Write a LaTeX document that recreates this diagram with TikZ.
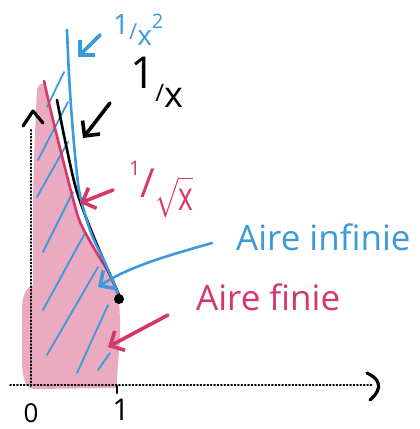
\documentclass[tikz,border=0pt]{standalone}
\usepackage{fontspec}
\setmainfont{Open Sans}
\usetikzlibrary{arrows.meta}
\definecolor{hblue}{RGB}{58,154,218}
\definecolor{hpink}{RGB}{212,56,106}
\definecolor{hfill}{RGB}{234,170,192}
\newcommand{\fsz}[1]{\fontsize{#1}{#1}\selectfont}
\begin{document}
\begin{tikzpicture}[x=1pt,y=-1pt,line cap=round,line join=round,
  curve/.style={line width=2.6pt},
  hatch/.style={hblue,line width=1.8pt},
  handarrow/.style={line width=3.6pt,-{Straight Barb[length=11pt,width=22pt,line width=3.6pt]}},
  axisline/.style={line width=1.4pt,dash pattern=on 1.2pt off 2.2pt},
  chevron/.style={line width=3.2pt},
  lab/.style={inner sep=0pt,anchor=base west}
]
\useasboundingbox (0,0) rectangle (420,429);
% pink area
\fill[hfill] plot[smooth] coordinates {(44,84)(53,120)(63,160)(72,195)(80,222)(95,250)(110,275)(119,297)}
  -- (120,320) .. controls (121,345) and (117,360) .. (117,388)
  -- (35,389) .. controls (26,389) and (22,380) .. (22,360)
  -- (22,310) .. controls (22,295) and (26,288) .. (33,285)
  -- (33,200) .. controls (34,150) and (36,110) .. (37,92)
  .. controls (37,85) and (41,83) .. (44,84) -- cycle;
% hatching
\draw[hatch] (47,107) -- (64,72);
\draw[hatch] (38,160) -- (68,102);
\draw[hatch] (37,197) -- (68,142);
\draw[hatch] (43,252) -- (73,192);
\draw[hatch] (43,310) -- (85,233);
\draw[hatch] (47,355) -- (98,267);
\draw[hatch] (77,373) -- (108,305);
\draw[hatch] (98,370) -- (110,353);
% axes
\coordinate (xs) at (10,385);
\coordinate (xe) at (372,385);
\coordinate (ys) at (31,386);
\coordinate (ye) at (31,128);
\draw[axisline] (xs) -- (xe);
\draw[axisline] (ys) -- (ye);
\draw[chevron] (367,373) .. controls (378,378) and (385,387) .. (370,400);
\draw[chevron] (23,126) -- (33,111) -- (43,123);
\draw[line width=2pt] (117,386) -- (117,393);
% curves
\draw[curve,hpink] plot[smooth] coordinates {(44,81)(53,120)(63,160)(72,195)(80,222)(95,250)(110,275)(119,297)};
\draw[curve,black] plot[smooth] coordinates {(57,100)(66,145)(77,192)(95,240)(120,297)};
\draw[curve,hblue] plot[smooth] coordinates {(67,30)(69,75)(72,120)(76,165)(80,195)(91,233)(106,265)(118,293)};
\node[circle,fill=black,inner sep=0pt,minimum size=10pt] (dot) at (119,299) {};
% tick labels
\node[inner sep=0pt,font=\fsz{26}] (zero) at (31,413) {0};
\node[inner sep=0pt,font=\fsz{30}] (one) at (121,410) {1};
% curve labels
\node[lab,hblue] (lblue) at (113,45)
  {\raisebox{11pt}{\fsz{28}1}\raisebox{6pt}{\fsz{22}/}{\fsz{28}x}\raisebox{17pt}{\fsz{20}2}};
\node[lab,black] (lblack) at (130,107)
  {\raisebox{19pt}{\fsz{44}1}\raisebox{6pt}{\fsz{24}/}{\fsz{36}x}};
\node[lab,hpink] (lpink) at (129,210)
  {\raisebox{35pt}{\fsz{20}1}\raisebox{13pt}{\fsz{40}/}\scalebox{2.8}[4]{$\sqrt{\hbox{x}}$}};
\node[lab,hblue,font=\fsz{35}] (tinf) at (236,250) {Aire infinie};
\node[lab,hpink,font=\fsz{35}] (tfin) at (196,310) {Aire finie};
% arrows
\coordinate (a1s) at (100,35);  \coordinate (a1e) at (78,57);
\coordinate (a2s) at (110,103); \coordinate (a2e) at (83,138);
\coordinate (a3s) at (113,190); \coordinate (a3e) at (80,203);
\coordinate (a4s) at (212,243); \coordinate (a4e) at (98,287);
\coordinate (a5s) at (168,315); \coordinate (a5e) at (108,347);
\draw[handarrow,hblue] (a1s) -- (a1e);
\draw[handarrow,black] (a2s) -- (a2e);
\draw[handarrow,hpink] (a3s) -- (a3e);
\draw[handarrow,hblue,line width=2.6pt] (a4s) .. controls (170,255) and (130,266) .. (a4e);
\draw[handarrow,hpink] (a5s) -- (a5e);
\end{tikzpicture}
\end{document}
